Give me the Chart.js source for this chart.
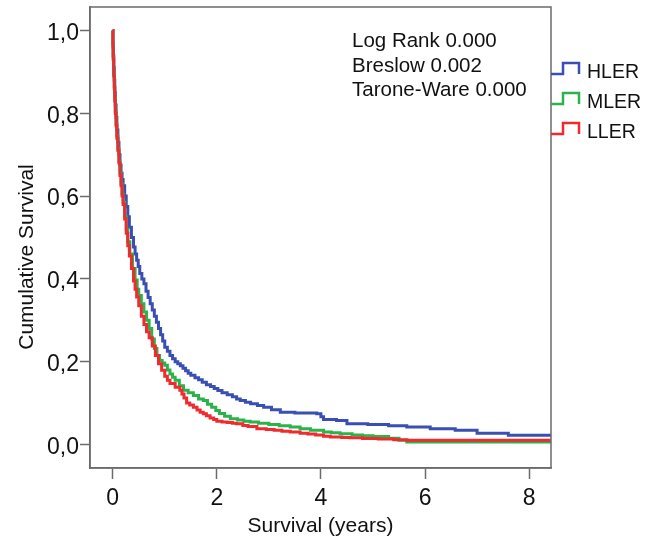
<!DOCTYPE html>
<html>
<head>
<meta charset="utf-8">
<script src="https://cdn.jsdelivr.net/npm/chart.js@4"></script>
<style>
  html, body { margin: 0; padding: 0; background: #fff; }
</style>
</head>
<body>
<canvas id="kmChart" width="658" height="536"></canvas>
<script>
// Kaplan-Meier curves (time in years, cumulative survival)
const hlerTime = [0, 0.005, 0.01, 0.02, 0.03, 0.04, 0.05, 0.065, 0.08, 0.1, 0.12, 0.14, 0.16, 0.18, 0.2, 0.23, 0.26, 0.29, 0.32, 0.36, 0.4, 0.43, 0.46, 0.49, 0.52, 0.56, 0.6, 0.64, 0.68, 0.72, 0.76, 0.8, 0.84, 0.88, 0.92, 0.96, 1.0, 1.05, 1.1, 1.15, 1.2, 1.25, 1.3, 1.35, 1.4, 1.45, 1.5, 1.58, 1.65, 1.72, 1.8, 1.88, 1.95, 2.02, 2.1, 2.2, 2.3, 2.38, 2.45, 2.55, 2.65, 2.78, 2.9, 3.05, 3.22, 3.5, 3.92, 4.0, 4.05, 4.3, 4.5, 4.9, 5.3, 5.65, 6.1, 6.58, 7.0, 7.6, 8.42];
const hlerSurv = [1.0, 0.97, 0.94, 0.91, 0.88, 0.85, 0.82, 0.79, 0.76, 0.73, 0.70, 0.675, 0.655, 0.64, 0.625, 0.60, 0.575, 0.55, 0.525, 0.50, 0.477, 0.46, 0.445, 0.43, 0.413, 0.40, 0.388, 0.37, 0.355, 0.34, 0.325, 0.31, 0.295, 0.28, 0.265, 0.25, 0.235, 0.225, 0.215, 0.207, 0.20, 0.195, 0.19, 0.184, 0.178, 0.172, 0.167, 0.161, 0.156, 0.15, 0.144, 0.14, 0.135, 0.13, 0.125, 0.12, 0.115, 0.11, 0.106, 0.102, 0.098, 0.094, 0.09, 0.084, 0.078, 0.076, 0.074, 0.067, 0.06, 0.058, 0.05, 0.048, 0.045, 0.042, 0.038, 0.034, 0.027, 0.022, 0.022];

const mlerTime = [0, 0.005, 0.01, 0.02, 0.03, 0.04, 0.05, 0.065, 0.08, 0.1, 0.12, 0.14, 0.16, 0.18, 0.2, 0.23, 0.26, 0.29, 0.33, 0.38, 0.43, 0.47, 0.5, 0.55, 0.6, 0.65, 0.7, 0.75, 0.8, 0.85, 0.9, 0.95, 1.0, 1.05, 1.1, 1.15, 1.2, 1.28, 1.36, 1.45, 1.55, 1.65, 1.74, 1.82, 1.9, 1.98, 2.05, 2.15, 2.26, 2.4, 2.52, 2.64, 2.8, 3.0, 3.2, 3.41, 3.6, 3.8, 4.05, 4.2, 4.37, 4.6, 4.8, 5.0, 5.3, 5.5, 5.65, 8.42];
const mlerSurv = [1.0, 0.965, 0.935, 0.895, 0.865, 0.835, 0.805, 0.775, 0.745, 0.715, 0.685, 0.655, 0.63, 0.605, 0.585, 0.55, 0.52, 0.49, 0.46, 0.425, 0.397, 0.375, 0.36, 0.34, 0.32, 0.30, 0.28, 0.255, 0.232, 0.215, 0.203, 0.197, 0.191, 0.18, 0.17, 0.162, 0.155, 0.142, 0.131, 0.125, 0.118, 0.11, 0.106, 0.097, 0.09, 0.082, 0.075, 0.068, 0.062, 0.059, 0.056, 0.054, 0.051, 0.048, 0.045, 0.042, 0.038, 0.034, 0.030, 0.028, 0.026, 0.023, 0.021, 0.019, 0.015, 0.01, 0.006, 0.006];

const llerTime = [0, 0.005, 0.01, 0.02, 0.03, 0.04, 0.05, 0.065, 0.08, 0.1, 0.12, 0.14, 0.16, 0.18, 0.2, 0.23, 0.26, 0.29, 0.32, 0.36, 0.4, 0.43, 0.46, 0.5, 0.55, 0.6, 0.65, 0.7, 0.76, 0.82, 0.88, 0.94, 1.0, 1.05, 1.1, 1.2, 1.29, 1.33, 1.37, 1.42, 1.48, 1.55, 1.62, 1.68, 1.74, 1.8, 1.87, 1.94, 2.0, 2.1, 2.2, 2.3, 2.38, 2.5, 2.6, 2.77, 2.95, 3.1, 3.25, 3.41, 3.6, 3.75, 3.9, 4.05, 4.18, 4.4, 4.56, 4.8, 5.1, 5.4, 5.65, 8.42];
const llerSurv = [1.0, 0.96, 0.93, 0.89, 0.86, 0.83, 0.80, 0.77, 0.74, 0.71, 0.68, 0.65, 0.625, 0.60, 0.58, 0.545, 0.51, 0.48, 0.455, 0.425, 0.395, 0.375, 0.356, 0.335, 0.31, 0.29, 0.272, 0.258, 0.238, 0.215, 0.195, 0.179, 0.165, 0.155, 0.147, 0.138, 0.131, 0.122, 0.112, 0.10, 0.095, 0.09, 0.083, 0.078, 0.074, 0.069, 0.064, 0.06, 0.056, 0.054, 0.053, 0.051, 0.05, 0.046, 0.043, 0.038, 0.036, 0.034, 0.032, 0.03, 0.027, 0.025, 0.023, 0.02, 0.018, 0.017, 0.016, 0.014, 0.013, 0.011, 0.01, 0.01];

const groupNames = ["HLER", "MLER", "LLER"];
const groupColors = ["#3a4fb2", "#2cb24a", "#ee2b2e"];
const xTicks = [0, 2, 4, 6, 8];
const yTicks = [0, 0.2, 0.4, 0.6, 0.8, 1.0];
const testLines = ["Log Rank 0.000", "Breslow 0.002", "Tarone-Ware 0.000"];

const FONT = "'Liberation Sans', Arial, sans-serif";
const frameColor = "#6b6b6b";

function toPoints(times, surv) {
  return times.map((t, i) => ({ x: t, y: surv[i] }));
}

// box round the plot area, stats text, step-style legend, y title
const extrasPlugin = {
  id: "extras",
  afterDraw(chart) {
    const { ctx, chartArea } = chart;
    ctx.save();
    ctx.strokeStyle = frameColor;
    ctx.lineWidth = 1.5;
    ctx.strokeRect(chartArea.left, chartArea.top, chartArea.right - chartArea.left, chartArea.bottom - chartArea.top);

    ctx.fillStyle = "#111";
    ctx.font = "20.5px " + FONT;
    ctx.textAlign = "left";
    ctx.textBaseline = "alphabetic";
    testLines.forEach((line, i) => {
      ctx.fillText(line, chartArea.left + 262, chartArea.top + 40 + i * 24.7);
    });

    // legend with the little step symbol
    ctx.font = "19.5px " + FONT;
    ctx.lineWidth = 2.5;
    groupNames.forEach((name, i) => {
      const base = chartArea.top + 71 + i * 30;
      const x0 = chartArea.right;
      ctx.strokeStyle = groupColors[i];
      ctx.beginPath();
      ctx.moveTo(x0, base - 4);
      ctx.lineTo(x0 + 12, base - 4);
      ctx.lineTo(x0 + 12, base - 15);
      ctx.lineTo(x0 + 28, base - 15);
      ctx.lineTo(x0 + 28, base - 4);
      ctx.stroke();
      ctx.fillStyle = "#111";
      ctx.fillText(name, x0 + 36, base);
    });

    // y axis title
    ctx.translate(27, 257);
    ctx.rotate(-Math.PI / 2);
    ctx.textAlign = "center";
    ctx.textBaseline = "middle";
    ctx.font = "21px " + FONT;
    ctx.fillStyle = "#111";
    ctx.fillText("Cumulative Survival", 0, 0);
    ctx.restore();
  }
};

const ctx = document.getElementById("kmChart").getContext("2d");

new Chart(ctx, {
  type: "line",
  data: {
    datasets: [
      { label: groupNames[0], data: toPoints(hlerTime, hlerSurv), borderColor: groupColors[0], order: 2 },
      { label: groupNames[1], data: toPoints(mlerTime, mlerSurv), borderColor: groupColors[1], order: 1 },
      { label: groupNames[2], data: toPoints(llerTime, llerSurv), borderColor: groupColors[2], order: 0 }
    ]
  },
  options: {
    responsive: false,
    animation: false,
    devicePixelRatio: 1,
    layout: { padding: { left: 0, top: 7, right: 107, bottom: 0 } },
    elements: {
      line: { borderWidth: 3, stepped: "before", tension: 0, fill: false },
      point: { radius: 0, hoverRadius: 0 }
    },
    plugins: {
      legend: { display: false },
      tooltip: { enabled: false }
    },
    scales: {
      x: {
        type: "linear",
        min: -0.436,
        max: 8.42,
        afterBuildTicks: s => { s.ticks = xTicks.map(v => ({ value: v })); },
        afterFit: s => { s.height = 68; s.paddingLeft = 0; s.paddingRight = 0; },
        grid: { drawOnChartArea: false, tickLength: 11, tickColor: frameColor, tickWidth: 1.5 },
        border: { color: frameColor, width: 1.5 },
        ticks: { font: { size: 23, family: FONT }, color: "#111", padding: 6, maxRotation: 0 },
        title: { display: true, text: "Survival (years)", font: { size: 21, family: FONT }, color: "#111", padding: { top: 0, bottom: -3 } }
      },
      y: {
        min: -0.057,
        max: 1.057,
        afterBuildTicks: s => { s.ticks = yTicks.map(v => ({ value: v })); },
        afterFit: s => { s.width = 90; s.paddingTop = 0; s.paddingBottom = 0; },
        grid: { drawOnChartArea: false, tickLength: 10, tickColor: frameColor, tickWidth: 1.5 },
        border: { color: frameColor, width: 1.5 },
        ticks: {
          font: { size: 23, family: FONT },
          color: "#111",
          padding: 1,
          labelOffset: 3,
          callback: v => v.toFixed(1).replace(".", ",")
        }
      }
    }
  },
  plugins: [extrasPlugin]
});
</script>
</body>
</html>
